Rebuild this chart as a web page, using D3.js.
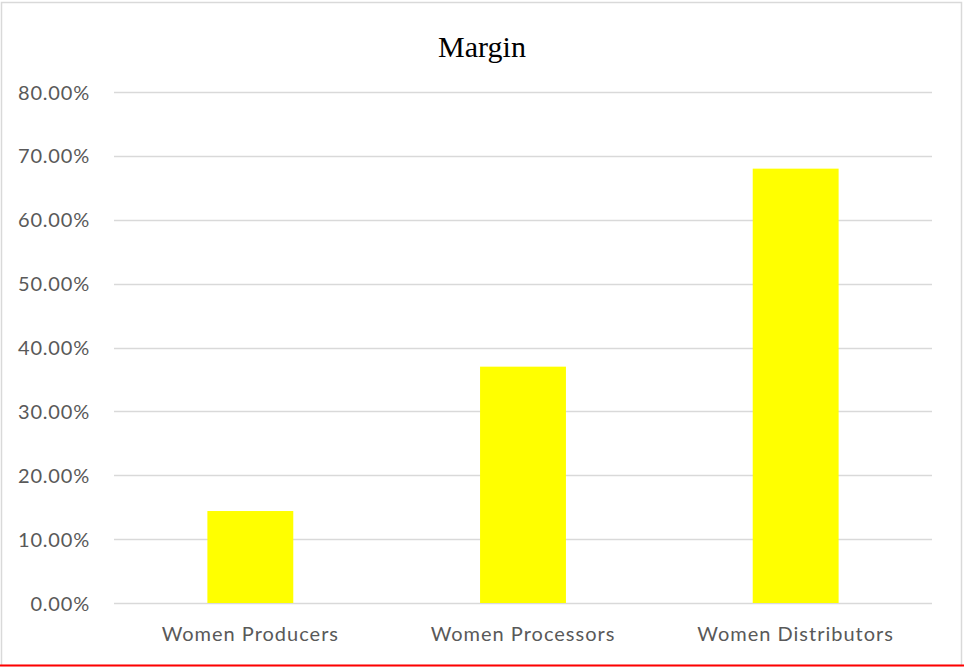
<!DOCTYPE html>
<html>
<head>
<meta charset="utf-8">
<script src="https://cdn.jsdelivr.net/npm/d3@7"></script>
<style>
  html, body { margin: 0; padding: 0; background: #fff; }
  svg { display: block; }
</style>
</head>
<body>
<svg id="chart" width="964" height="667"></svg>
<script>
// Margin by group
const categories = ["Women Producers", "Women Processors", "Women Distributors"];
const margins = [0.144, 0.37, 0.68];
const yTicks = [0, 0.1, 0.2, 0.3, 0.4, 0.5, 0.6, 0.7, 0.8];
const chartTitle = "Margin";

const W = 964, H = 667;
const plot = { left: 114, right: 932, top: 92, bottom: 603 };
const labelFont = "Lato, 'Open Sans', sans-serif";

const svg = d3.select("#chart");

// chart frame
svg.append("rect")
  .attr("x", 1.5).attr("y", 2.5)
  .attr("width", W - 4).attr("height", H - 4)
  .attr("fill", "#fff").attr("stroke", "#d9d9d9").attr("stroke-width", 1.5);
svg.append("line")
  .attr("x1", 0).attr("x2", W)
  .attr("y1", 665.5).attr("y2", 665.5)
  .attr("stroke", "#ff0000").attr("stroke-width", 2);

const x = d3.scaleBand()
  .domain(categories)
  .range([plot.left, plot.right])
  .paddingInner(0.685)
  .paddingOuter(0.3425);

const y = d3.scaleLinear()
  .domain([0, 0.8])
  .range([plot.bottom, plot.top]);

// gridlines
svg.append("g")
  .selectAll("line")
  .data(yTicks)
  .join("line")
  .attr("x1", plot.left).attr("x2", plot.right)
  .attr("y1", d => Math.round(y(d)) + 0.5)
  .attr("y2", d => Math.round(y(d)) + 0.5)
  .attr("stroke", "#d9d9d9").attr("stroke-width", 1.3);

// y tick labels
svg.append("g")
  .selectAll("text")
  .data(yTicks)
  .join("text")
  .attr("x", 90)
  .attr("y", d => y(d) + 7.5)
  .attr("text-anchor", "end")
  .attr("font-family", labelFont)
  .attr("font-size", 20)
  .attr("letter-spacing", 0.8)
  .attr("fill", "#595959")
  .text(d => d3.format(".2%")(d));

// bars
svg.append("g")
  .selectAll("rect")
  .data(categories.map((c, i) => ({ c, v: margins[i] })))
  .join("rect")
  .attr("x", d => x(d.c))
  .attr("width", x.bandwidth())
  .attr("y", d => y(d.v))
  .attr("height", d => y(0) - y(d.v))
  .attr("fill", "#ffff00");

// category labels
svg.append("g")
  .selectAll("text")
  .data(categories)
  .join("text")
  .attr("x", d => x(d) + x.bandwidth() / 2)
  .attr("y", 641)
  .attr("text-anchor", "middle")
  .attr("font-family", labelFont)
  .attr("font-size", 20)
  .attr("letter-spacing", 1.0)
  .attr("fill", "#595959")
  .text(d => d);

// title
svg.append("text")
  .attr("x", W / 2)
  .attr("y", 57)
  .attr("text-anchor", "middle")
  .attr("font-family", "'Liberation Serif', 'Times New Roman', serif")
  .attr("font-size", 30)
  .attr("fill", "#000")
  .text(chartTitle);
</script>
</body>
</html>
